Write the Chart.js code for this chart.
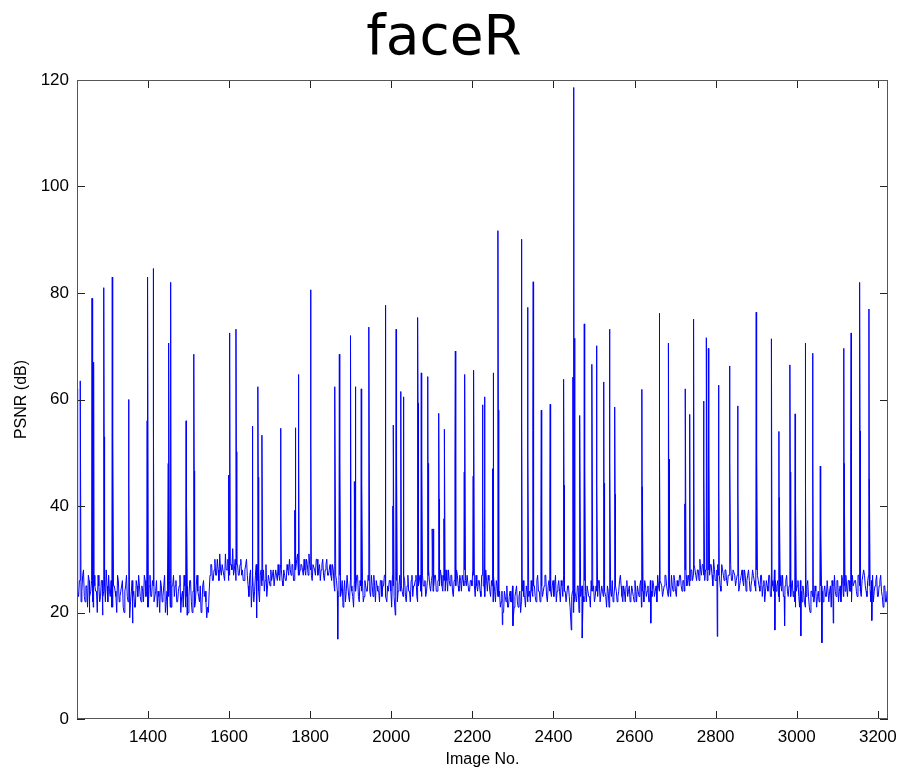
<!DOCTYPE html>
<html>
<head>
<meta charset="utf-8">
<script src="https://cdn.jsdelivr.net/npm/chart.js@4"></script>
<style>
  html, body { margin: 0; padding: 0; background: #fff; }
  #wrap { width: 901px; height: 769px; }
</style>
</head>
<body>
<div id="wrap"><canvas id="chart" width="901" height="769"></canvas></div>
<script>
// PSNR per image
const titleText = 'faceR'
const xLabel = 'Image No.'
const yLabel = 'PSNR (dB)'
const xTicks = [1400, 1600, 1800, 2000, 2200, 2400, 2600, 2800, 3000, 3200]
const yTicks = [0, 20, 40, 60, 80, 100, 120]

// background level, one value every 4 images from 1225
const baseStart = 1225
const baseStep = 4
const baseline = [
  27, 23, 26, 24, 28, 22, 25, 27, 23, 26, 21, 25, 24, 27, 22, 26, 23, 25, 28, 22,
  24, 26, 21, 25, 23, 27, 22, 24, 26, 20, 25, 23, 22, 22, 26, 24, 21, 25, 27, 23,
  25, 22, 26, 24, 21, 27, 23, 25, 22, 26, 24, 20, 25, 23, 27, 22, 24, 26, 21, 25,
  23, 26, 22, 25, 20, 24, 27, 21, 25, 23, 26, 20, 24, 22, 27, 23, 25, 21, 26, 24,
  19, 20, 27, 29, 26, 30, 27, 28, 31, 27, 29, 26, 28, 30, 27, 29, 32, 28, 26, 29,
  27, 30, 28, 26, 29, 27, 23, 28, 25, 22, 27, 29, 24, 27, 25, 28, 26, 23, 27, 25,
  26, 28, 25, 27, 29, 26, 28, 25, 27, 26, 28, 30, 27, 29, 26, 28, 31, 27, 29, 28,
  30, 27, 29, 31, 28, 26, 29, 27, 30, 28, 26, 29, 27, 28, 30, 27, 29, 26, 28, 24,
  26, 23, 27, 24, 21, 26, 24, 27, 22, 25, 23, 26, 24, 27, 22, 25, 26, 23, 25, 24,
  26, 23, 25, 27, 22, 25, 24, 26, 23, 25, 27, 22, 24, 26, 21, 25, 23, 26, 24, 27,
  25, 23, 26, 22, 27, 24, 26, 23, 25, 27, 22, 26, 24, 27, 25, 23, 26, 28, 24, 27,
  25, 27, 24, 26, 28, 25, 27, 24, 26, 28, 25, 27, 23, 26, 28, 25, 27, 24, 26, 28,
  25, 27, 24, 26, 28, 25, 27, 24, 26, 23, 27, 25, 28, 24, 26, 23, 25, 27, 22, 25,
  23, 21, 24, 20, 23, 25, 21, 24, 22, 19, 23, 25, 21, 24, 22, 26, 23, 25, 22, 24,
  26, 23, 25, 22, 27, 24, 26, 23, 25, 27, 22, 26, 24, 25, 23, 27, 24, 26, 22, 25,
  27, 24, 22, 25, 21, 23, 20, 24, 22, 25, 21, 24, 23, 26, 22, 25, 23, 26, 24, 22,
  25, 23, 26, 22, 24, 26, 23, 25, 21, 24, 26, 23, 25, 22, 24, 27, 23, 25, 22, 26,
  24, 22, 25, 23, 26, 22, 24, 25, 21, 24, 26, 23, 25, 22, 24, 26, 23, 25, 27, 24,
  26, 23, 25, 27, 24, 26, 23, 25, 27, 24, 26, 25, 27, 24, 26, 28, 25, 27, 26, 28,
  27, 29, 26, 28, 30, 27, 29, 26, 28, 30, 27, 29, 25, 28, 26, 29, 27, 24, 28, 26,
  28, 25, 27, 29, 26, 28, 25, 27, 24, 26, 28, 25, 27, 26, 28, 24, 26, 27, 25, 28,
  26, 24, 27, 25, 22, 26, 24, 27, 23, 25, 28, 24, 26, 22, 25, 27, 23, 26, 24, 25,
  23, 26, 24, 21, 25, 23, 26, 22, 24, 21, 25, 23, 20, 24, 22, 25, 21, 24, 23, 25,
  22, 25, 23, 26, 24, 21, 25, 27, 23, 26, 24, 22, 26, 25, 27, 23, 26, 24, 27, 25,
  26, 23, 27, 24, 26, 28, 25, 23, 27, 24, 26, 22, 25, 27, 23, 26, 24, 21, 25, 22,
  17
]

// in-between frames, one value every 4 images from 1227
const midStart = 1227
const baselineMid = [
  24, 26, 22, 27, 23, 25, 21, 26, 24, 22, 27, 24, 20, 25, 23, 26, 24, 22, 25, 27,
  23, 21, 25, 24, 20, 26, 23, 25, 21, 24, 27, 22, 19, 24, 23, 21, 26, 23, 25, 22,
  24, 27, 23, 21, 25, 23, 26, 22, 24, 21, 23, 26, 22, 25, 20, 24, 23, 21, 25, 27,
  25, 22, 24, 27, 23, 21, 25, 23, 20, 26, 22, 24, 21, 25, 24, 22, 20, 25, 23, 22,
  21, 24, 29, 26, 28, 27, 30, 26, 28, 29, 27, 31, 28, 26, 29, 28, 27, 30, 29, 27,
  29, 27, 26, 28, 30, 25, 27, 21, 27, 24, 29, 26, 22, 28, 26, 24, 29, 25, 26, 28,
  27, 25, 28, 26, 27, 29, 26, 28, 26, 29, 27, 28, 29, 26, 28, 30, 27, 28, 29, 27,
  28, 30, 27, 29, 27, 29, 28, 30, 27, 29, 28, 30, 26, 29, 27, 28, 27, 29, 25, 27,
  24, 26, 23, 26, 24, 22, 27, 23, 26, 24, 21, 25, 27, 23, 26, 24, 22, 26, 24, 27,
  24, 27, 23, 25, 26, 24, 22, 26, 25, 27, 23, 25, 26, 24, 27, 23, 26, 22, 25, 24,
  24, 27, 23, 25, 24, 22, 27, 25, 26, 23, 25, 27, 23, 25, 26, 24, 27, 25, 26, 24,
  27, 24, 26, 25, 27, 24, 26, 28, 24, 26, 27, 24, 26, 25, 27, 24, 26, 27, 25, 26,
  27, 24, 26, 25, 27, 23, 25, 26, 24, 27, 25, 23, 26, 27, 24, 26, 22, 24, 26, 23,
  24, 22, 20, 24, 22, 21, 23, 22, 25, 21, 24, 22, 23, 20, 24, 23, 21, 24, 23, 22,
  24, 25, 23, 26, 24, 22, 25, 24, 27, 23, 25, 24, 23, 26, 25, 22, 25, 24, 26, 23,
  24, 22, 25, 23, 21, 24, 22, 23, 25, 20, 23, 25, 22, 24, 25, 23, 21, 24, 25, 23,
  24, 26, 22, 25, 23, 24, 21, 24, 26, 23, 22, 25, 24, 23, 26, 25, 22, 24, 25, 23,
  25, 23, 24, 22, 24, 25, 23, 26, 24, 22, 25, 24, 22, 26, 23, 25, 24, 22, 25, 26,
  25, 24, 27, 25, 23, 25, 27, 24, 26, 23, 25, 27, 25, 26, 24, 27, 26, 25, 28, 26,
  29, 27, 28, 26, 28, 29, 27, 28, 26, 28, 29, 27, 30, 26, 28, 27, 25, 29, 27, 28,
  26, 27, 29, 26, 28, 27, 26, 28, 25, 27, 26, 28, 24, 27, 26, 25, 28, 26, 24, 27,
  25, 27, 23, 26, 24, 25, 27, 23, 26, 24, 26, 25, 23, 27, 24, 23, 25, 27, 23, 26,
  25, 23, 22, 24, 26, 21, 24, 25, 22, 23, 26, 21, 24, 23, 22, 24, 23, 22, 25, 24,
  24, 23, 26, 22, 25, 26, 23, 24, 26, 22, 25, 27, 23, 24, 25, 26, 24, 22, 25, 26,
  24, 27, 25, 23, 26, 27, 24, 26, 25, 22, 27, 24, 26, 23, 25, 27, 23, 25, 22, 24
]

// single-image peaks (and their half-height neighbours)
const peakX = [
  1226, 1233, 1262, 1264, 1266, 1291, 1292, 1312, 1313, 1352, 1353, 1398, 1399, 1413, 1414,
  1450, 1451, 1456, 1494, 1495, 1513, 1514, 1599, 1601, 1602, 1617, 1618, 1657, 1671, 1672,
  1681, 1727, 1728, 1762, 1763, 1771, 1772, 1801, 1802, 1860, 1861, 1872, 1873, 1899, 1900,
  1909, 1911, 1926, 1927, 1944, 1945, 1985, 1986, 2004, 2005, 2012, 2013, 2023, 2024, 2030,
  2065, 2066, 2074, 2075, 2090, 2091, 2101, 2104, 2117, 2118, 2130, 2131, 2157, 2158, 2180,
  2181, 2202, 2203, 2225, 2226, 2230, 2250, 2251, 2263, 2264, 2321, 2322, 2336, 2337, 2349,
  2350, 2369, 2370, 2391, 2392, 2425, 2426, 2448, 2450, 2452, 2464, 2465, 2476, 2477, 2494,
  2495, 2506, 2507, 2524, 2525, 2538, 2539, 2551, 2552, 2618, 2619, 2661, 2662, 2683, 2684,
  2685, 2724, 2725, 2736, 2745, 2746, 2770, 2771, 2777, 2782, 2783, 2807, 2808, 2834, 2835,
  2854, 2855, 2900, 2901, 2937, 2938, 2956, 2957, 2983, 2984, 2996, 2997, 3021, 3022, 3039,
  3040, 3058, 3059, 3116, 3117, 3133, 3134, 3155, 3156, 3178, 3179
]
const peakY = [
  62, 63.5, 79, 47, 67, 81, 53, 83, 53, 60, 44, 56, 83, 84.6, 56,
  48, 70.6, 82, 56, 40.6, 68.5, 46.6, 45.8, 72.5, 67.8, 73.2, 50.2, 55, 62.4, 45.4,
  53.3, 54.6, 40.2, 39.2, 54.7, 64.7, 50.8, 80.6, 51.8, 44.7, 62.4, 68.5, 48, 48.3, 72,
  44.6, 62.4, 62, 44.3, 48.5, 73.6, 52, 77.7, 40, 55.2, 73.2, 48.1, 42.9, 61.5, 60.5,
  75.4, 59.3, 65, 48.6, 64.3, 48, 35.7, 35.7, 57.4, 41.3, 37.6, 54.4, 49, 69.1, 46.4,
  64.7, 45.6, 65.5, 59, 40.8, 60.5, 47, 65, 91.7, 58, 90.1, 56.9, 77.3, 50.3, 54.2,
  82.1, 39, 58, 40.4, 59.1, 63.8, 43.9, 64.2, 118.6, 71.5, 40.4, 57, 74.2, 47.3, 62.7,
  66.6, 70.1, 44, 63.3, 44.3, 73.2, 47.9, 58.6, 42.2, 61.9, 43.6, 76.2, 50.7, 55.4, 70.6,
  48.8, 40.4, 62, 57.2, 50, 75.1, 59.7, 45.8, 71.6, 69.6, 48.3, 62.7, 44, 66.3, 48.4,
  58.8, 43, 76.4, 49.9, 47.7, 71.4, 54, 41.6, 66.5, 46.4, 57.3, 41, 70.6, 44.7, 68.7,
  48, 47.5, 35.7, 69.6, 48, 50.2, 72.5, 82, 54.1, 77, 45
]

// single-image drops below the band
const dipX = [1255, 1288, 1362, 1447, 1497, 1668, 1868, 2010, 2274, 2300, 2444, 2471, 2640, 2804, 2946, 2970, 3010, 3062, 3090, 3185]
const dipY = [20, 19.5, 18, 19.5, 19.5, 19, 15, 19.5, 17.7, 17.5, 16.7, 15.2, 18, 15.5, 16.7, 17.5, 15.6, 14.3, 18, 18.5]

const points = baseline.map((v, i) => ({ x: baseStart + i * baseStep, y: v }))
  .concat(baselineMid.map((v, i) => ({ x: midStart + i * baseStep, y: v })))
  .concat(peakX.map((x, i) => ({ x: x, y: peakY[i] })))
  .concat(dipX.map((x, i) => ({ x: x, y: dipY[i] })))
  .sort((a, b) => a.x - b.x)

// MATLAB style box with inward tick marks on all four sides
const boxTicks = {
  id: 'boxTicks',
  afterDraw(chart) {
    const { ctx, chartArea: a, scales: { x, y } } = chart
    const len = 8
    ctx.save()
    ctx.strokeStyle = '#222'
    ctx.lineWidth = 1
    ctx.beginPath()
    x.ticks.forEach(t => {
      const px = Math.round(x.getPixelForValue(t.value)) + 0.5
      ctx.moveTo(px, a.bottom); ctx.lineTo(px, a.bottom - len)
      ctx.moveTo(px, a.top); ctx.lineTo(px, a.top + len)
    })
    y.ticks.forEach(t => {
      const py = Math.round(y.getPixelForValue(t.value)) + 0.5
      ctx.moveTo(a.left, py); ctx.lineTo(a.left + len, py)
      ctx.moveTo(a.right, py); ctx.lineTo(a.right - len, py)
    })
    ctx.stroke()
    ctx.strokeStyle = '#555'
    ctx.strokeRect(Math.round(a.left) + 0.5, Math.round(a.top) + 0.5,
      Math.round(a.right - a.left) - 1, Math.round(a.bottom - a.top) - 1)
    ctx.restore()
  }
}

const tickFont = { family: "'Liberation Sans', Arial, sans-serif", size: 17 }
const labelFont = { family: "'Liberation Sans', Arial, sans-serif", size: 16 }

new Chart(document.getElementById('chart').getContext('2d'), {
  type: 'line',
  data: {
    datasets: [{
      data: points,
      borderColor: '#0000ff',
      borderWidth: 1,
      pointRadius: 0,
      tension: 0,
      fill: false
    }]
  },
  options: {
    responsive: false,
    animation: false,
    events: [],
    layout: { padding: { top: 0, right: 13, bottom: 0, left: 0 } },
    plugins: {
      legend: { display: false },
      tooltip: { enabled: false },
      title: {
        display: true,
        text: titleText,
        color: '#000',
        font: { family: "'DejaVu Sans', sans-serif", size: 55, weight: 'normal', lineHeight: 1.2 },
        padding: { top: 7, bottom: 7 }
      }
    },
    scales: {
      x: {
        type: 'linear',
        min: 1225,
        max: 3225,
        afterBuildTicks: s => { s.ticks = xTicks.map(v => ({ value: v })) },
        afterFit: s => { s.height = 50; s.paddingLeft = 0; s.paddingRight = 0 },
        grid: { display: false, drawTicks: false },
        border: { display: false },
        ticks: { color: '#000', font: tickFont, padding: 8, maxRotation: 0, autoSkip: false, callback: v => String(v) },
        title: { display: true, text: xLabel, color: '#000', font: labelFont, padding: { top: 0, bottom: 0 } }
      },
      y: {
        min: 0,
        max: 120,
        afterBuildTicks: s => { s.ticks = yTicks.map(v => ({ value: v })) },
        afterFit: s => { s.width = 77 },
        grid: { display: false, drawTicks: false },
        border: { display: false },
        ticks: { color: '#000', font: tickFont, padding: 8, callback: v => String(v) },
        title: { display: true, text: yLabel, color: '#000', font: labelFont, padding: { top: 12, bottom: 0 } }
      }
    }
  },
  plugins: [boxTicks]
})
</script>
</body>
</html>
